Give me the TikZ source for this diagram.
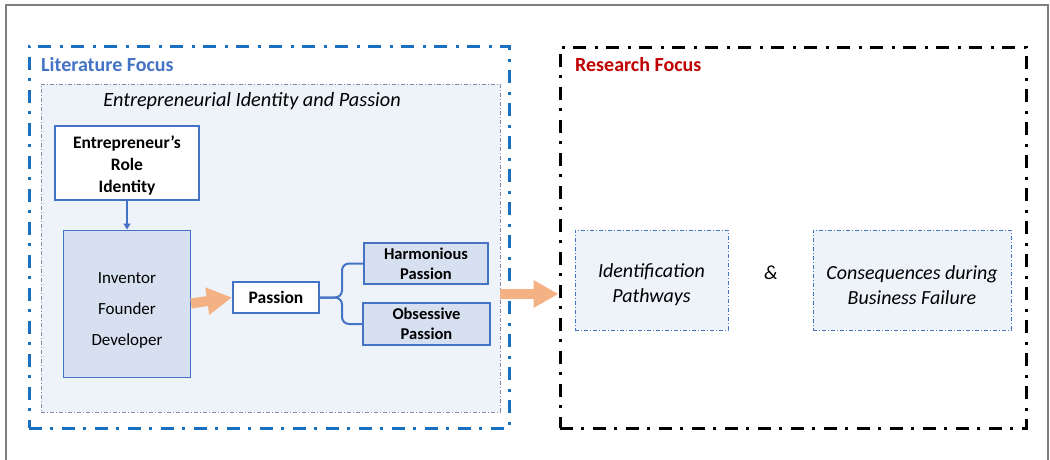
\documentclass[tikz,border=0pt]{standalone}
\usepackage{fontspec}
\setmainfont{Carlito}
\usetikzlibrary{calc,arrows.meta}
\definecolor{frame}{HTML}{7F7F7F}
\definecolor{litblue}{HTML}{1A6FC1}
\definecolor{titleblue}{HTML}{4472C4}
\definecolor{boxblue}{HTML}{4472C4}
\definecolor{resred}{HTML}{C00000}
\definecolor{pale}{HTML}{EEF3FA}
\definecolor{shade}{HTML}{D6E0F1}
\definecolor{dotgray}{HTML}{7C8CA8}
\definecolor{orng}{HTML}{F4B183}
\tikzset{
  litframe/.style={draw=litblue, line width=3pt, dash pattern=on 13pt off 8pt on 3pt off 9pt, minimum width=480pt, minimum height=382pt, inner sep=0pt},
  resframe/.style={draw=black, line width=3pt, dash pattern=on 13pt off 8pt on 3pt off 9pt, minimum width=466pt, minimum height=381pt, inner sep=0pt},
  thindot/.style={draw=dotgray, fill=pale, line width=0.8pt, dash pattern=on 4pt off 2pt on 1pt off 2pt, inner sep=0pt},
  focusbox/.style={draw=boxblue, fill=pale, line width=0.9pt, dash pattern=on 4pt off 2pt on 1pt off 2pt, inner sep=0pt, minimum height=100pt},
  focustext/.style={align=center, inner sep=0pt, font=\fontsize{20}{25}\selectfont\itshape},
  keybox/.style={draw=boxblue, fill=white, line width=2pt, inner sep=0pt, align=center, font=\fontsize{17.5}{22}\selectfont\bfseries},
  rolebox/.style={draw=boxblue, fill=shade, line width=1pt, inner sep=0pt},
  roletext/.style={align=center, inner sep=0pt, font=\fontsize{17}{31}\selectfont},
  kindbox/.style={draw=boxblue, fill=shade, line width=1.3pt, inner sep=0pt, align=center, font=\fontsize{16.5}{20}\selectfont\bfseries},
  heading/.style={anchor=west, inner sep=0pt, font=\fontsize{20}{24}\selectfont\bfseries},
  fat/.style={draw=orng, line width=10pt, -{Triangle[length=25pt,width=26pt]}},
  thin/.style={draw=boxblue, line width=1.5pt, -{Triangle[length=6pt,width=7pt]}},
  brace/.style={draw=boxblue, line width=2pt, rounded corners=7pt},
}
\begin{document}
\begin{tikzpicture}[x=1pt,y=-1pt]
  \useasboundingbox (0,0) rectangle (1050,459);
  \draw[frame, line width=1.5pt] (6,460) -- (6,5) -- (1048,5) -- (1048,460);

  % literature side
  \node[litframe] (lit) at (269,237) {};
  \node[heading, text=titleblue] (littitle) at (41,65) {Literature Focus};
  \node[thindot, minimum width=459pt, minimum height=328pt] (idbox) at (270.5,248) {};
  \node[font=\fontsize{20.3}{24}\selectfont\itshape] (idtitle) at (252,101) {Entrepreneurial Identity and Passion};

  \node[keybox, minimum width=144pt, minimum height=74pt] (role) at (127,163) {};
  \node[keybox, draw=none, fill=none, minimum size=0pt] (roletxt) at (127,166) {Entrepreneur’s\\Role\\Identity};
  \node[rolebox, minimum width=127pt, minimum height=147pt] (inv) at (127,303.5) {};
  \node[roletext] (invtxt) at (127,310.5) {Inventor\\Founder\\Developer};
  \node[keybox, minimum width=86pt, minimum height=31pt] (pas) at (276,297.5) {Passion};
  \node[kindbox, minimum width=124pt, minimum height=41pt] (harm) at (426,263.5) {Harmonious\\Passion};
  \node[kindbox, minimum width=127pt, minimum height=42pt] (obs) at (426.5,324) {Obsessive\\Passion};

  \draw[thin] (role.south) -- (inv.north);
  \draw[brace] (pas.east) -- ($(pas.east)+(22,0)$) |- (harm.west);
  \draw[brace] (pas.east) -- ($(pas.east)+(22,0)$) |- (obs.west);

  % research side
  \node[resframe] (rf) at (793,237.5) {};
  \node[heading, text=resred] (rftitle) at (575,65) {Research Focus};
  \node[focusbox, minimum width=153pt] (path) at (651.5,280) {};
  \node[focustext] (pathtxt) at (651.5,285) {Identification\\Pathways};
  \node[focusbox, minimum width=198pt] (cons) at (912,280) {};
  \node[focustext] (constxt) at (912,285) {Consequences during\\Business Failure};
  \node[font=\fontsize{20}{24}\selectfont\itshape] (amp) at (771,273) {\&};

  \coordinate (mid) at (530,294);
  \draw[fat] (inv.east) -- (pas.west);
  \draw[fat] (idbox.east |- mid) -- (rf.west |- mid);
\end{tikzpicture}
\end{document}
